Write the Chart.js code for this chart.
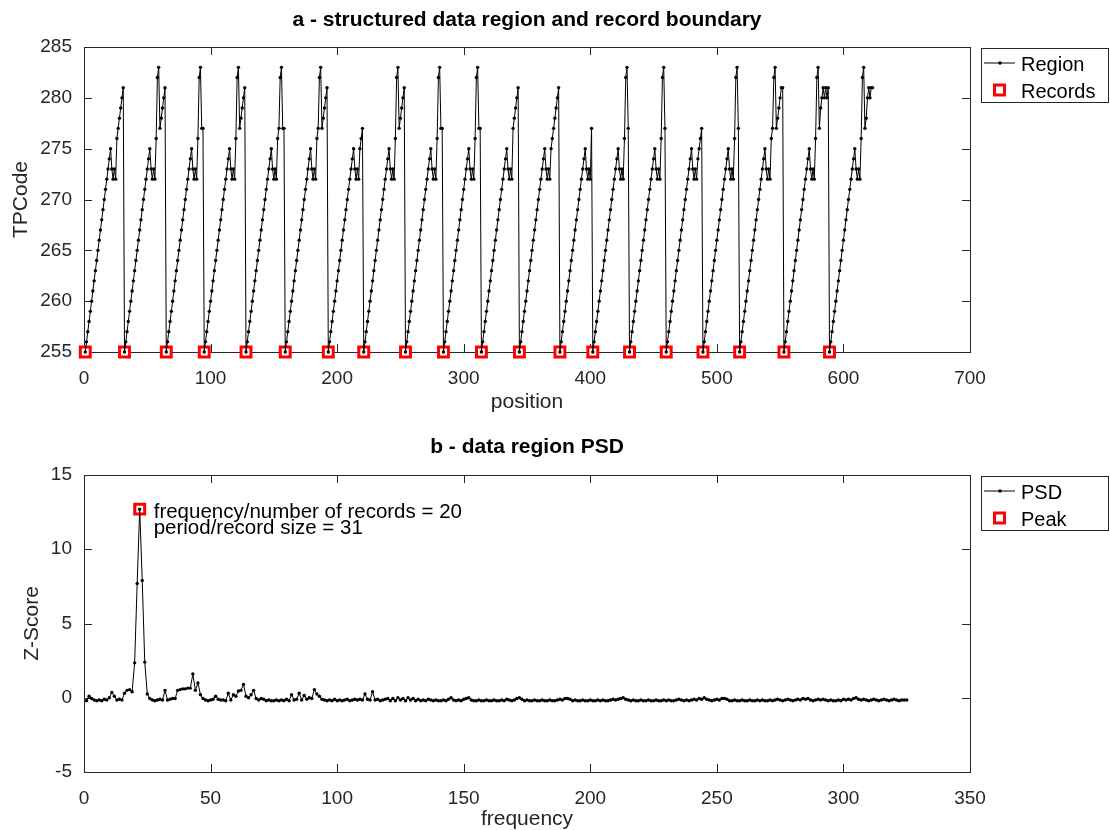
<!DOCTYPE html>
<html>
<head>
<meta charset="utf-8">
<title>structured data region</title>
<script src="https://cdn.jsdelivr.net/npm/chart.js@4.4.0/dist/chart.umd.min.js"></script>
<style>
  html, body { margin: 0; padding: 0; background: #fff; }
  #wrap { position: relative; width: 1110px; height: 830px; }
  .pane { position: absolute; left: 0; width: 1110px; height: 415px; }
</style>
</head>
<body>
<div id="wrap">
  <div class="pane" style="top:0"><canvas id="regionChart" width="1110" height="415"></canvas></div>
  <div class="pane" style="top:415px"><canvas id="psdChart" width="1110" height="415"></canvas></div>
</div>
<script>
// TPCode sequence, one line per record
const tpcode = [
  255,256,257,258,259,260,261,262,263,264,265,266,267,268,269,270,271,272,273,274,275, 273,272,273,272, 276,277,278,279,280,281,
  255,256,257,258,259,260,261,262,263,264,265,266,267,268,269,270,271,272,273,274,275, 273,272,273,272, 276,282,283,277,278,279,280,281,
  255,256,257,258,259,260,261,262,263,264,265,266,267,268,269,270,271,272,273,274,275, 273,272,273,272, 276,282,283,277,277,
  255,256,257,258,259,260,261,262,263,264,265,266,267,268,269,270,271,272,273,274,275, 273,272,273,272, 276,282,283,277,278,279,280,281,
  255,256,257,258,259,260,261,262,263,264,265,266,267,268,269,270,271,272,273,274,275, 273,272,273,272, 276,277,282,283,277,277,
  255,256,257,258,259,260,261,262,263,264,265,266,267,268,269,270,271,272,273,274,275, 273,272,273,272, 276,277,282,283,277,278,279,280,281,
  255,256,257,258,259,260,261,262,263,264,265,266,267,268,269,270,271,272,273,274,275, 273,272,273,272, 275,276,277,
  255,256,257,258,259,260,261,262,263,264,265,266,267,268,269,270,271,272,273,274,275, 273,272,273,272, 276,282,283,277,278,279,280,281,
  255,256,257,258,259,260,261,262,263,264,265,266,267,268,269,270,271,272,273,274,275, 273,272,273,272, 276,282,283,277,277,
  255,256,257,258,259,260,261,262,263,264,265,266,267,268,269,270,271,272,273,274,275, 273,272,273,272, 276,282,283,277,277,
  255,256,257,258,259,260,261,262,263,264,265,266,267,268,269,270,271,272,273,274,275, 273,272,273,272, 277,278,279,280,281,
  255,256,257,258,259,260,261,262,263,264,265,266,267,268,269,270,271,272,273,274,275, 273,272,273,272, 275,276,277,278,279,280,281,
  255,256,257,258,259,260,261,262,263,264,265,266,267,268,269,270,271,272,273,274,275, 273,272,273,272, 277,
  255,256,257,258,259,260,261,262,263,264,265,266,267,268,269,270,271,272,273,274,275, 273,272,273,272, 276,282,283,277,
  255,256,257,258,259,260,261,262,263,264,265,266,267,268,269,270,271,272,273,274,275, 273,272,273,272, 276,282,283,277,
  255,256,257,258,259,260,261,262,263,264,265,266,267,268,269,270,271,272,273,274,275, 273,272,273,272, 274,275,276,277,
  255,256,257,258,259,260,261,262,263,264,265,266,267,268,269,270,271,272,273,274,275, 273,272,273,272, 276,282,283,277,
  255,256,257,258,259,260,261,262,263,264,265,266,267,268,269,270,271,272,273,274,275, 273,272,273,272, 276,277,282,283,277,278,279,280,281,281,
  255,256,257,258,259,260,261,262,263,264,265,266,267,268,269,270,271,272,273,274,275, 273,272,273,272, 276,282,283,277,279,280,281,280,281,280,281,
  255,256,257,258,259,260,261,262,263,264,265,266,267,268,269,270,271,272,273,274,275, 273,272,273,272, 276,282,283,277,278,280,281,280,281,281,
];
// positions where a record starts
const recordStarts = [1, 32, 65, 95, 128, 159, 193, 221, 254, 284, 314, 344, 376, 402, 431, 460, 489, 518, 553, 589];

// z-scored power spectral density, frequency 1..325
const psd = [
  -0.2, 0.1, -0.05, -0.15, -0.2, -0.15, -0.2, -0.1, -0.15, 0.0,
  0.35, 0.1, -0.15, -0.1, -0.15, 0.3, 0.5, 0.55, 0.4, 2.35,
  7.7, 12.7, 7.9, 2.4, 0.25, -0.05, -0.15, -0.2, -0.15, -0.1,
  -0.15, 0.5, -0.15, -0.1, -0.05, -0.05, 0.5, 0.55, 0.6, 0.6,
  0.65, 0.65, 1.6, 0.5, 1.0, 0.2, -0.05, -0.15, -0.2, -0.15,
  -0.1, 0.1, -0.1, -0.15, -0.15, -0.2, 0.3, -0.15, 0.2, 0.1,
  0.45, 0.5, 0.9, 0.1, 0.0, 0.2, 0.5, -0.05, -0.15, -0.05,
  -0.1, -0.2, -0.15, -0.2, -0.2, -0.15, -0.2, -0.15, -0.2, -0.1,
  -0.2, 0.2, -0.15, -0.1, 0.3, -0.15, 0.15, -0.1, 0.0, -0.05,
  0.55, 0.25, 0.1, -0.1, -0.15, -0.2, -0.15, -0.2, -0.1, -0.2,
  -0.15, -0.2, -0.15, -0.1, -0.2, -0.15, -0.1, -0.15, -0.1, -0.15,
  0.25, -0.1, -0.15, 0.4, -0.15, -0.1, -0.2, -0.15, -0.1, -0.05,
  -0.2, -0.05, -0.2, 0.0, -0.15, -0.05, -0.2, 0.0, -0.15, -0.05,
  -0.2, -0.1, -0.2, -0.15, -0.2, -0.1, -0.15, -0.2, -0.15, -0.2,
  -0.2, -0.15, -0.2, -0.1, 0.0, -0.15, -0.2, -0.15, -0.2, -0.1,
  -0.05, 0.0, -0.15, -0.2, -0.2, -0.15, -0.2, -0.2, -0.15, -0.2,
  -0.2, -0.15, -0.2, -0.2, -0.15, -0.2, -0.1, -0.15, -0.2, -0.15,
  -0.05, 0.0, -0.1, -0.2, -0.15, -0.2, -0.2, -0.15, -0.2, -0.2,
  -0.15, -0.2, -0.2, -0.15, -0.2, -0.2, -0.15, -0.1, -0.15, -0.05,
  -0.05, -0.1, -0.2, -0.15, -0.2, -0.2, -0.15, -0.2, -0.2, -0.15,
  -0.2, -0.2, -0.15, -0.2, -0.15, -0.2, -0.2, -0.15, -0.1, -0.15,
  -0.1, -0.05, 0.0, -0.1, -0.15, -0.2, -0.15, -0.2, -0.2, -0.15,
  -0.2, -0.2, -0.15, -0.2, -0.2, -0.15, -0.2, -0.2, -0.15, -0.2,
  -0.15, -0.2, -0.2, -0.15, -0.1, -0.15, -0.2, -0.15, -0.2, -0.15,
  -0.1, -0.15, -0.05, -0.1, 0.0, -0.1, -0.15, -0.2, -0.15, -0.1,
  -0.15, -0.05, -0.05, -0.1, -0.2, -0.2, -0.15, -0.2, -0.2, -0.15,
  -0.2, -0.2, -0.15, -0.2, -0.2, -0.15, -0.2, -0.15, -0.2, -0.2,
  -0.15, -0.2, -0.15, -0.1, -0.15, -0.2, -0.15, -0.1, -0.15, -0.2,
  -0.15, -0.1, -0.15, -0.05, -0.1, -0.05, -0.15, -0.2, -0.15, -0.1,
  -0.15, -0.1, -0.15, -0.2, -0.15, -0.2, -0.2, -0.15, -0.2, -0.1,
  -0.15, -0.1, -0.15, -0.05, 0.0, -0.1, -0.15, -0.1, -0.15, -0.2,
  -0.15, -0.1, -0.15, -0.2, -0.15, -0.1, -0.15, -0.2, -0.15, -0.1,
  -0.15, -0.2, -0.15, -0.15, -0.15,
];
const peakFrequency = 22;
const peakText = ["frequency/number of records = 20", "period/record size = 31"];

// axis ranges / tick steps
const positionAxis = { min: 0, max: 700, step: 100 };
const tpcodeAxis = { min: 255, max: 285, step: 5 };
const frequencyAxis = { min: 0, max: 350, step: 50 };
const zscoreAxis = { min: -5, max: 15, step: 5 };

const FONT = "'Liberation Sans', Arial, Helvetica, sans-serif";
const INK = "#262626";
const RED = "#ff0000";

// MATLAB-like box, inward ticks on all sides, title, legend and text
const matlabFrame = {
  id: "matlabFrame",
  beforeDatasetsDraw(chart, args, opts) {
    const { ctx, chartArea: a } = chart;
    const xs = chart.scales.x;
    const ys = chart.scales.y;
    const len = 8;
    ctx.save();
    ctx.strokeStyle = INK;
    ctx.lineWidth = 1;
    ctx.strokeRect(Math.round(a.left) + 0.5, Math.round(a.top) + 0.5,
      Math.round(a.right - a.left), Math.round(a.bottom - a.top));
    ctx.beginPath();
    xs.ticks.forEach((t) => {
      const p = Math.round(xs.getPixelForValue(t.value)) + 0.5;
      ctx.moveTo(p, a.bottom); ctx.lineTo(p, a.bottom - len);
      ctx.moveTo(p, a.top); ctx.lineTo(p, a.top + len);
    });
    ys.ticks.forEach((t) => {
      const p = Math.round(ys.getPixelForValue(t.value)) + 0.5;
      ctx.moveTo(a.left, p); ctx.lineTo(a.left + len, p);
      ctx.moveTo(a.right, p); ctx.lineTo(a.right - len, p);
    });
    ctx.stroke();
    ctx.restore();
  },
  afterDraw(chart, args, opts) {
    const { ctx, chartArea: a } = chart;
    ctx.save();
    // title
    ctx.fillStyle = "#000";
    ctx.font = `bold 21px ${FONT}`;
    ctx.textAlign = "center";
    ctx.textBaseline = "middle";
    ctx.fillText(opts.title, (a.left + a.right) / 2, opts.titleY);

    // legend box
    const bx = 981, by = a.top + 1, bw = 127, bh = 54;
    ctx.fillStyle = "#fff";
    ctx.fillRect(bx, by, bw, bh);
    ctx.strokeStyle = INK;
    ctx.lineWidth = 1;
    ctx.strokeRect(bx + 0.5, by + 0.5, bw, bh);
    ctx.font = `20px ${FONT}`;
    ctx.textAlign = "left";
    ctx.textBaseline = "middle";
    opts.legend.forEach((entry, i) => {
      const cy = by + 15 + i * 27;
      if (entry.kind === "line") {
        ctx.strokeStyle = "#000";
        ctx.beginPath();
        ctx.moveTo(bx + 3, cy); ctx.lineTo(bx + 34, cy);
        ctx.stroke();
        ctx.fillStyle = "#000";
        ctx.beginPath();
        ctx.arc(bx + 19, cy, 1.8, 0, Math.PI * 2);
        ctx.fill();
      } else {
        ctx.strokeStyle = RED;
        ctx.lineWidth = 3;
        ctx.fillStyle = "#fff";
        ctx.fillRect(bx + 13.5, cy - 5, 10, 10);
        ctx.strokeRect(bx + 13.5, cy - 5, 10, 10);
        ctx.lineWidth = 1;
      }
      ctx.fillStyle = "#000";
      ctx.fillText(entry.label, bx + 40, cy + 2);
    });

    // note next to the peak
    if (opts.note) {
      const xs = chart.scales.x;
      const ys = chart.scales.y;
      const px = xs.getPixelForValue(opts.note.x);
      const py = ys.getPixelForValue(opts.note.y);
      ctx.fillStyle = "#000";
      ctx.font = `20.5px ${FONT}`;
      ctx.textBaseline = "alphabetic";
      opts.note.lines.forEach((line, i) => {
        ctx.fillText(line, px + 14, py + 9 + i * 15.5);
      });
    }
    ctx.restore();
  },
};

const makeScales = (xAxis, yAxis, xTitle, yTitle, xHeight, yTitlePad, xTitlePad) => ({
  x: {
    type: "linear",
    min: xAxis.min,
    max: xAxis.max,
    grid: { display: false, drawTicks: false },
    border: { display: false },
    ticks: {
      stepSize: xAxis.step,
      autoSkip: false,
      maxRotation: 0,
      padding: 15,
      color: INK,
      font: { family: FONT, size: 19 },
    },
    title: {
      display: true,
      text: xTitle,
      color: INK,
      font: { family: FONT, size: 21 },
      padding: { top: 0, bottom: xTitlePad },
    },
    afterFit: (scale) => { scale.height = xHeight; },
  },
  y: {
    type: "linear",
    min: yAxis.min,
    max: yAxis.max,
    grid: { display: false, drawTicks: false },
    border: { display: false },
    ticks: {
      stepSize: yAxis.step,
      autoSkip: false,
      padding: 12,
      color: INK,
      font: { family: FONT, size: 19 },
    },
    title: {
      display: true,
      text: yTitle,
      color: INK,
      font: { family: FONT, size: 21 },
      padding: { top: yTitlePad, bottom: 0 },
    },
    afterFit: (scale) => { scale.width = 84; },
  },
});

const lineSet = (label, points) => ({
  label,
  data: points,
  borderColor: "#000",
  borderWidth: 1,
  pointRadius: 1.7,
  pointBackgroundColor: "#000",
  pointBorderWidth: 0,
  tension: 0,
  clip: false,
});

const markerSet = (label, points) => ({
  label,
  data: points,
  showLine: false,
  pointStyle: "rect",
  pointRadius: 7,
  pointBorderWidth: 3,
  pointBorderColor: RED,
  pointBackgroundColor: "#fff",
  clip: false,
});

const createRegionChart = () => {
  const regionPoints = tpcode.map((v, i) => ({ x: i + 1, y: v }));
  const recordPoints = recordStarts.map((p) => ({ x: p, y: tpcode[p - 1] }));
  new Chart(document.getElementById("regionChart"), {
    type: "line",
    data: { datasets: [lineSet("Region", regionPoints), markerSet("Records", recordPoints)] },
    options: {
      responsive: false,
      animation: false,
      events: [],
      layout: { padding: { top: 47, right: 140, bottom: 0, left: 0 } },
      scales: makeScales(positionAxis, tpcodeAxis, "position", "TPCode", 63, 9, 0),
      plugins: {
        legend: { display: false },
        tooltip: { enabled: false },
        matlabFrame: {
          title: "a - structured data region and record boundary",
          titleY: 20,
          legend: [{ label: "Region", kind: "line" }, { label: "Records", kind: "square" }],
        },
      },
    },
    plugins: [matlabFrame],
  });
};

const createPsdChart = () => {
  const psdPoints = psd.map((v, i) => ({ x: i + 1, y: v }));
  const peakPoints = [{ x: peakFrequency, y: psd[peakFrequency - 1] }];
  new Chart(document.getElementById("psdChart"), {
    type: "line",
    data: { datasets: [lineSet("PSD", psdPoints), markerSet("Peak", peakPoints)] },
    options: {
      responsive: false,
      animation: false,
      events: [],
      layout: { padding: { top: 60, right: 140, bottom: 0, left: 0 } },
      scales: makeScales(frequencyAxis, zscoreAxis, "frequency", "Z-Score", 58, 20, -2),
      plugins: {
        legend: { display: false },
        tooltip: { enabled: false },
        matlabFrame: {
          title: "b - data region PSD",
          titleY: 32,
          legend: [{ label: "PSD", kind: "line" }, { label: "Peak", kind: "square" }],
          note: { x: peakFrequency, y: psd[peakFrequency - 1], lines: peakText },
        },
      },
    },
    plugins: [matlabFrame],
  });
};

document.addEventListener("DOMContentLoaded", () => {
  createRegionChart();
  createPsdChart();
});
</script>
</body>
</html>
